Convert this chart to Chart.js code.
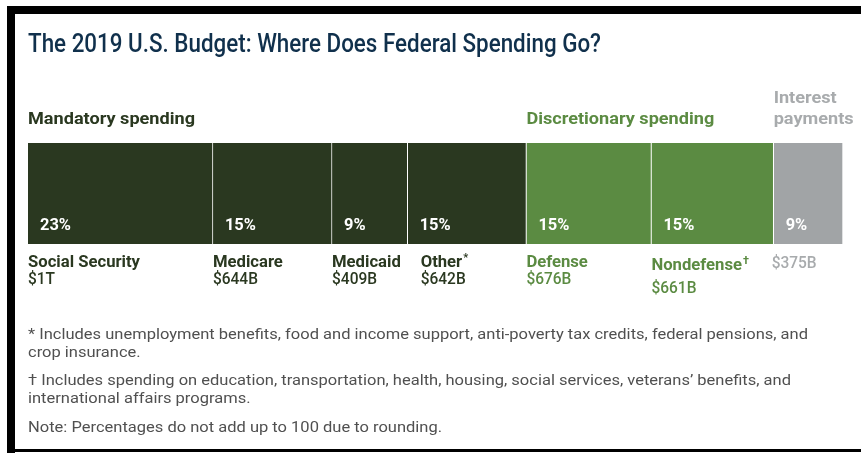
<!DOCTYPE html>
<html>
<head>
<meta charset="utf-8">
<script src="https://cdn.jsdelivr.net/npm/chart.js@4"></script>
<style>
  html, body { margin: 0; padding: 0; background: #fff; }
  #budgetChart { display: block; }
</style>
</head>
<body>
<canvas id="budgetChart" width="861" height="453"></canvas>
<script>
// 2019 federal outlays, in billions of dollars
const categories = ['Social Security', 'Medicare', 'Medicaid', 'Other', 'Defense', 'Nondefense', 'Interest'];
const marks = ['', '', '', '*', '', '†', ''];
const amounts = [1000, 644, 409, 642, 676, 661, 375];
const amountLabels = ['$1T', '$644B', '$409B', '$642B', '$676B', '$661B', '$375B'];
const shares = [23, 15, 9, 15, 15, 15, 9];
const groups = ['mandatory', 'mandatory', 'mandatory', 'mandatory', 'discretionary', 'discretionary', 'interest'];

const groupTitles = {
    mandatory: ['Mandatory spending'],
    discretionary: ['Discretionary spending'],
    interest: ['Interest', 'payments']
};

const footnotes = [
    '* Includes unemployment benefits, food and income support, anti-poverty tax credits, federal pensions, and',
    'crop insurance.',
    '† Includes spending on education, transportation, health, housing, social services, veterans’ benefits, and',
    'international affairs programs.',
    'Note: Percentages do not add up to 100 due to rounding.'
];

const fills = { mandatory: '#2a3820', discretionary: '#5b8b42', interest: '#a1a4a6' };
const textColors = { mandatory: '#2a3820', discretionary: '#5b8b42', interest: '#a8abad' };

const total = amounts.reduce((a, b) => a + b, 0);
const FONT = 'Roboto, "Liberation Sans", sans-serif';

// draw text stretched horizontally by sx
function txt(ctx, s, x, y, font, color, sx) {
    ctx.save();
    ctx.font = font;
    ctx.fillStyle = color;
    ctx.textBaseline = 'alphabetic';
    ctx.textAlign = 'left';
    ctx.translate(x, y);
    ctx.scale(sx, 1);
    ctx.fillText(s, 0, 0);
    const w = ctx.measureText(s).width * sx;
    ctx.restore();
    return w;
}

function fitScale(ctx, sample, font, width) {
    ctx.save();
    ctx.font = font;
    const w = ctx.measureText(sample).width;
    ctx.restore();
    return width / w;
}

const pageFrame = {
    id: 'pageFrame',
    beforeDraw(chart) {
        const ctx = chart.ctx;
        ctx.save();
        ctx.fillStyle = '#fff';
        ctx.fillRect(0, 0, chart.width, chart.height);
        ctx.fillStyle = '#000';
        ctx.fillRect(7, 6, chart.width - 7, 8);
        ctx.fillRect(7, 6, 8, chart.height - 6);
        ctx.fillRect(7, 449, chart.width - 7, 3);
        ctx.restore();
    }
};

const budgetLabels = {
    id: 'budgetLabels',
    afterDraw(chart) {
        const ctx = chart.ctx;

        // title
        const titleFont = '500 25px ' + FONT;
        const title = 'The 2019 U.S. Budget: Where Does Federal Spending Go?';
        txt(ctx, title, 28, 52, titleFont, '#10304c', fitScale(ctx, title, titleFont, 573));

        // group headings over the first segment of each group
        const headFont = 'bold 17px ' + FONT;
        const sxHead = fitScale(ctx, 'Mandatory spending', headFont, 167);
        const seen = {};
        groups.forEach((g, i) => {
            if (seen[g]) return;
            seen[g] = true;
            const bar = chart.getDatasetMeta(i).data[0];
            const lines = groupTitles[g];
            lines.forEach((line, k) => {
                const y = 124 - (lines.length - 1 - k) * 21;
                txt(ctx, line, bar.base, y, headFont, textColors[g], sxHead);
            });
        });

        // percentages inside the bar, names and amounts below it
        const pctFont = 'bold 17px ' + FONT;
        const sxPct = fitScale(ctx, '23%', pctFont, 31);
        const nameFont = 'bold 16px ' + FONT;
        const sxName = fitScale(ctx, 'Social Security', nameFont, 112);
        const amtFont = '500 16px ' + FONT;
        const sxAmt = fitScale(ctx, '$644B', amtFont, 45);
        categories.forEach((name, i) => {
            const bar = chart.getDatasetMeta(i).data[0];
            const left = bar.base;
            const bottom = bar.y + bar.height / 2;
            txt(ctx, shares[i] + '%', left + 12, bottom - 14, pctFont, '#fff', sxPct);

            const color = textColors[groups[i]];
            let x = left;
            if (name === 'Other') x += 13;
            if (groups[i] === 'interest') {
                txt(ctx, amountLabels[i], x - 2, bottom + 24, amtFont, color, sxAmt);
                return;
            }
            const dy = name === 'Nondefense' ? 3 : 0;
            const w = txt(ctx, name, x, bottom + 23 + dy, nameFont, color, sxName);
            if (marks[i]) txt(ctx, marks[i], x + w + 1, bottom + 17 + dy, 'bold 11px ' + FONT, color, 1);
            txt(ctx, amountLabels[i], x, bottom + 40 + dy * 3, amtFont, color, sxAmt);
        });

        // footnotes
        const noteFont = '15px ' + FONT;
        const sxNote = fitScale(ctx, footnotes[0], noteFont, 780);
        const noteY = [339, 357, 385, 403, 432];
        footnotes.forEach((line, k) => txt(ctx, line, 28, noteY[k], noteFont, '#505050', sxNote));
    }
};

new Chart(document.getElementById('budgetChart'), {
    type: 'bar',
    data: {
        labels: ['2019'],
        datasets: categories.map((name, i) => ({
            label: name,
            data: [amounts[i]],
            backgroundColor: fills[groups[i]],
            borderColor: '#ffffff',
            borderWidth: { left: 0, right: 1, top: 0, bottom: 0 },
            borderSkipped: false,
            barPercentage: 1,
            categoryPercentage: 1
        }))
    },
    options: {
        indexAxis: 'y',
        responsive: false,
        animation: false,
        devicePixelRatio: 1,
        layout: { padding: { left: 28, right: 18, top: 143, bottom: 209 } },
        scales: {
            x: { stacked: true, display: false, min: 0, max: total },
            y: { stacked: true, display: false }
        },
        plugins: {
            legend: { display: false },
            tooltip: { enabled: false }
        }
    },
    plugins: [pageFrame, budgetLabels]
});
</script>
</body>
</html>
